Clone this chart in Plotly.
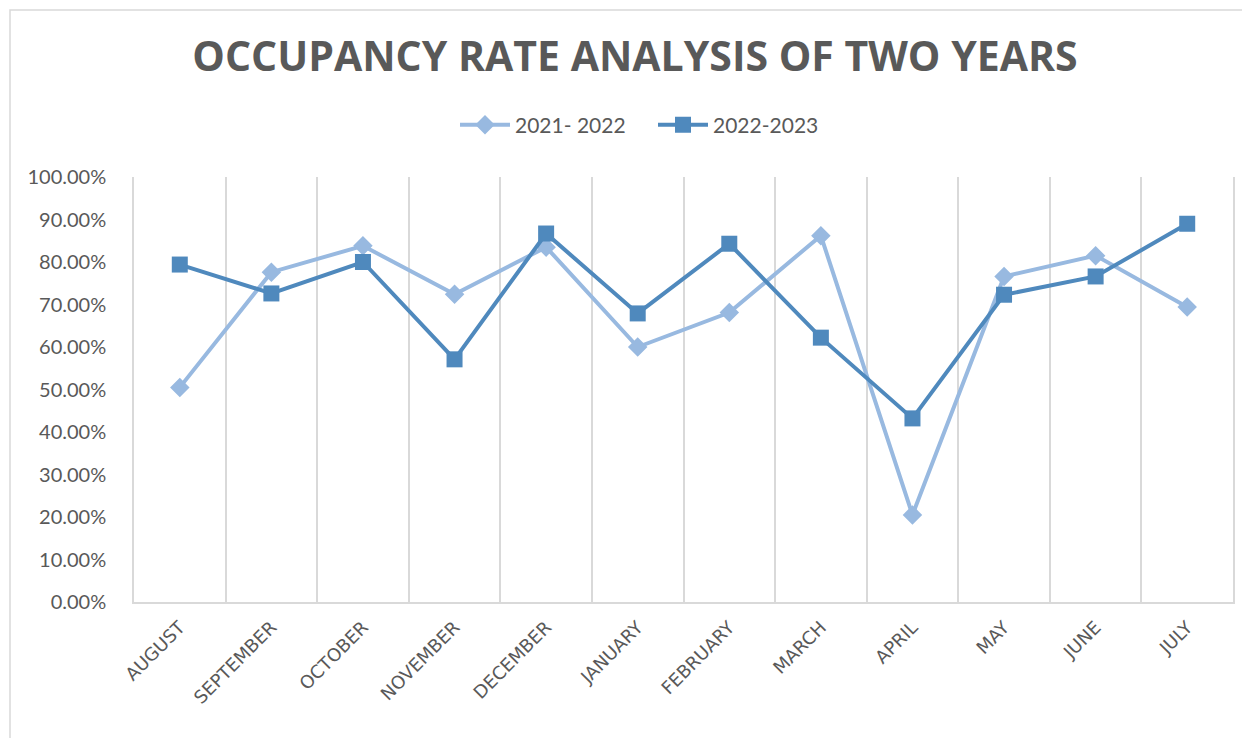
import plotly.graph_objects as go

months = ["AUGUST", "SEPTEMBER", "OCTOBER", "NOVEMBER", "DECEMBER", "JANUARY",
          "FEBRUARY", "MARCH", "APRIL", "MAY", "JUNE", "JULY"]
rate_2021_2022 = [0.505, 0.776, 0.838, 0.724, 0.835, 0.600, 0.681, 0.862, 0.205, 0.766, 0.815, 0.694]
rate_2022_2023 = [0.794, 0.726, 0.800, 0.571, 0.867, 0.679, 0.843, 0.622, 0.432, 0.723, 0.766, 0.890]
series_names = ["2021- 2022", "2022-2023"]

LIGHT = "#98B9E0"
DARK = "#4F89BD"
GRID = "#D9D9D9"
TEXT = "#595959"

W, H = 1250, 738
L, T = 126, 169
pw, ph = 1099, 425
R, B = W - L - pw, H - T - ph

fig = go.Figure()
fig.add_trace(go.Scatter(
    x=months, y=rate_2021_2022, name=series_names[0], mode="lines+markers",
    line=dict(color=LIGHT, width=4),
    marker=dict(symbol="diamond", size=15, color=LIGHT),
))
fig.add_trace(go.Scatter(
    x=months, y=rate_2022_2023, name=series_names[1], mode="lines+markers",
    line=dict(color=DARK, width=4),
    marker=dict(symbol="square", size=16, color=DARK),
))

# chart border (Excel chart area)
fig.add_shape(type="rect", xref="paper", yref="paper",
              x0=(2 - L) / pw, x1=(W + 30 - L) / pw,
              y0=(B - H - 30) / ph, y1=(H - 2 - B) / ph,
              line=dict(color=GRID, width=1.5), fillcolor="rgba(0,0,0,0)", layer="below")

fig.update_layout(
    width=W, height=H,
    margin=dict(l=L, r=R, t=T, b=B, autoexpand=False),
    paper_bgcolor="white", plot_bgcolor="white",
    title=dict(text="<b>OCCUPANCY RATE ANALYSIS OF TWO YEARS</b>",
               font=dict(family="Open Sans", size=41, color=TEXT),
               x=627 / W, xanchor="center", xref="container",
               y=1 - 49 / H, yanchor="middle", yref="container"),
    legend=dict(orientation="h", xref="container", yref="container",
                x=645 / W, xanchor="center", y=1 - 117 / H, yanchor="middle",
                font=dict(family="Lato", size=21, color=TEXT),
                itemwidth=50, traceorder="normal", entrywidth=133),
    xaxis=dict(type="category", tickson="boundaries", showgrid=True, automargin=False,
               range=[-0.5, 11.5],
               gridcolor=GRID, gridwidth=1.5, showline=True, linecolor=GRID,
               linewidth=1.5, mirror=False, ticks="", tickangle=-45,
               tickfont=dict(family="DejaVu Sans", size=18, color=TEXT),
               ticklabelstandoff=6),
    yaxis=dict(range=[0, 1], dtick=0.1, tickformat=".2%", showgrid=False, automargin=False,
               zeroline=False, showline=True, linecolor=GRID, linewidth=1.5,
               mirror=True, ticks="",
               tickfont=dict(family="Lato", size=20, color=TEXT),
               ticklabelstandoff=22),
)

fig.write_html("out.html")
